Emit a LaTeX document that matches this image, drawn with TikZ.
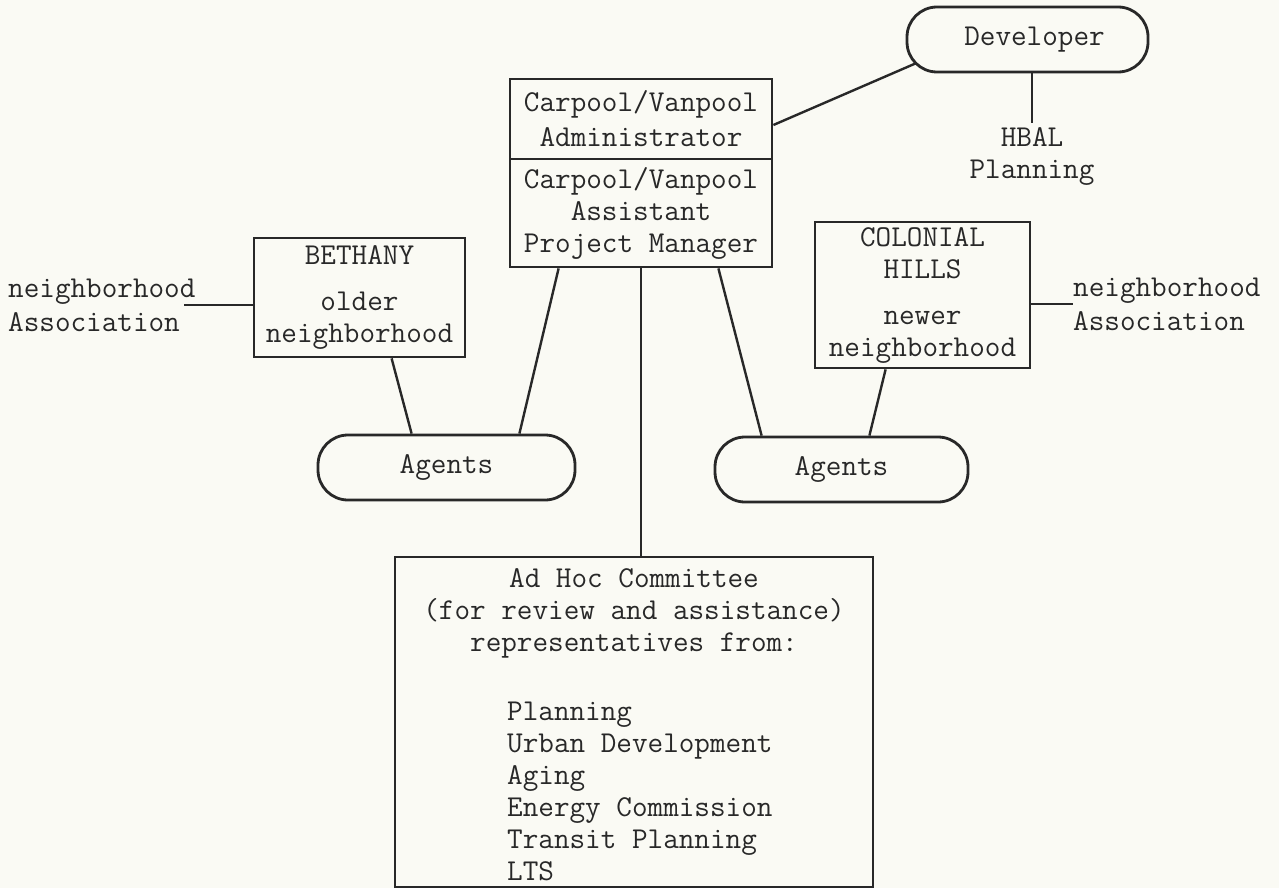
\documentclass[tikz,border=0pt]{standalone}
\usepackage{fontspec}
\definecolor{paper}{RGB}{250,250,244}
\definecolor{ink}{RGB}{40,40,40}
\begin{document}
\begin{tikzpicture}[x=1pt,y=-1pt,
  every node/.style={text=ink, font=\ttfamily\fontsize{30.3pt}{32pt}\selectfont},
  box/.style={draw=ink, line width=2.8pt, inner sep=0pt},
  pill/.style={box, rounded corners=30pt},
  conn/.style={draw=ink, line width=2.4pt},
  lbl/.style={inner sep=0pt, align=left}]
\fill[paper] (0,0) rectangle (1279,888);
\useasboundingbox (0,0) rectangle (1279,888);

\node[box, minimum width=262pt, minimum height=80pt, align=center] (admin) at (641,119) {Carpool/Vanpool\\[3pt]Administrator};
\node[box, minimum width=262pt, minimum height=108pt, align=center] (asst) at (641,213) {Carpool/Vanpool\\Assistant\\Project Manager};

\node[pill, minimum width=241pt, minimum height=65pt] (dev) at (1027.5,39.5) {\hspace*{14pt}Developer};
\node[lbl, align=center, inner sep=4pt] (hbal) at (1032,156) {HBAL\\Planning};

\node[box, minimum width=211pt, minimum height=119pt, align=center] (beth) at (359.5,297.5) {BETHANY\\[14pt]older\\neighborhood};
\node[box, minimum width=215pt, minimum height=146pt, align=center] (colo) at (922.5,295) {COLONIAL\\HILLS\\[14pt]newer\\neighborhood};

\node[lbl, anchor=west] (assocL) at (8,305) {neighborhood\\[2pt]Association};
\node[lbl, anchor=west] (assocR) at (1073,304) {neighborhood\\[2pt]Association};

\node[pill, minimum width=257pt, minimum height=65pt] (agL) at (446.5,467.5) {Agents};
\node[pill, minimum width=253pt, minimum height=65pt] (agR) at (841.5,469.5) {Agents};

\node[box, minimum width=478pt, minimum height=330pt] (comm) at (634,722) {};
\node[align=center] (commH) at (634,613) {Ad Hoc Committee\\(for review and assistance)\\representatives from:};
\node[lbl, anchor=west] (commL) at (507,791) {Planning\\Urban Development\\Aging\\Energy Commission\\Transit Planning\\LTS};

\draw[conn] ([yshift=-6pt]admin.east) -- ([xshift=10pt,yshift=10pt]dev.south west);
\draw[conn] (hbal.north |- dev.south) -- (hbal.north);
\draw[conn] (assocL.east -| beth.west) -- ([xshift=-12pt]assocL.east);
\draw[conn] (assocR.west -| colo.east) -- (assocR.west);
\draw[conn] ([xshift=50pt]asst.south west) -- ([xshift=-57pt]agL.north east);
\draw[conn] ([xshift=-55pt]asst.south east) -- ([xshift=48pt]agR.north west);
\draw[conn] (asst.south) -- (asst.south |- comm.north);
\draw[conn] ([xshift=139pt]beth.south west) -- ([xshift=95pt]agL.north west);
\draw[conn] ([xshift=72pt]colo.south west) -- ([xshift=-100pt]agR.north east);
\end{tikzpicture}
\end{document}
